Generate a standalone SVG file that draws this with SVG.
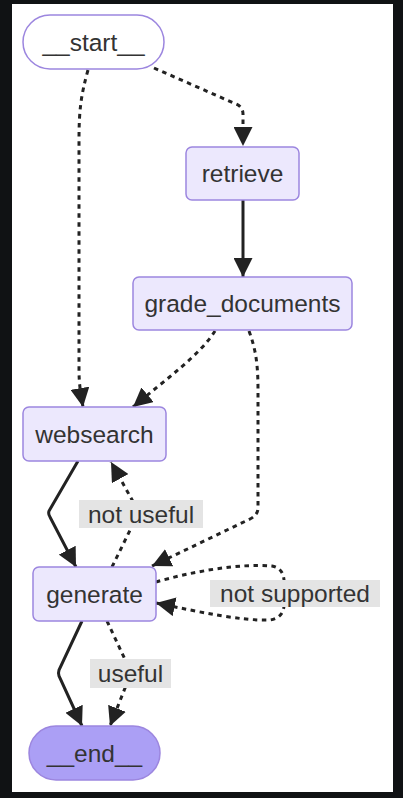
<svg xmlns="http://www.w3.org/2000/svg" width="403" height="798" viewBox="0 0 403 798">
<style>
.node rect{fill:#ece8fd;stroke:#9c86df;stroke-width:1.5}
.t{font-family:"Liberation Sans",Arial,sans-serif;font-size:24.5px;fill:#333;text-anchor:middle}
.e{fill:none;stroke:#222;stroke-width:3}
.d{stroke-dasharray:4.5 4.5}
.lbl{fill:#e4e4e4}
</style>
<defs>
<marker id="ah" markerUnits="userSpaceOnUse" markerWidth="19" markerHeight="19" viewBox="0 0 18 18" refX="18" refY="9" orient="auto">
<path d="M0,0 L18,9 L0,18 z" fill="#222"/>
</marker>
</defs>
<rect x="0" y="0" width="403" height="798" fill="#101214"/>
<rect x="12" y="4" width="381" height="788" fill="#ffffff"/>
<g id="connectors">
<path class="e d" d="M154,68 L236,104 Q243,107 243,114 L243,146" marker-end="url(#ah)"/>
<path class="e d" d="M88,70 C81,95 79,110 79,140 L79,370 C79,385 81,395 83,407" marker-end="url(#ah)"/>
<path class="e" d="M243,200 L243,277" marker-end="url(#ah)"/>
<path class="e d" d="M215,331 C200,355 165,380 133,407" marker-end="url(#ah)"/>
<path class="e d" d="M249,331 C256,350 258,365 258,390 L258,508 Q258,515 250,519 L152,566" marker-end="url(#ah)"/>
<path class="e" d="M78,461 L49,511 Q48,514 50,517 L76,567" marker-end="url(#ah)"/>
<path class="e d" d="M112,567 L136,518 Q139,513 136,507 L111,462" marker-end="url(#ah)"/>
<path class="e d" d="M156,582 C190,572 240,563 272,566 Q283,568 284,580 L284,606 Q283,618 270,620 C240,621 200,612 156,603" marker-end="url(#ah)"/>
<path class="e" d="M82,621 L59,670 Q58,673 59,676 L82,726" marker-end="url(#ah)"/>
<path class="e d" d="M107,621 L129,668 Q131,673 129,678 L110,726" marker-end="url(#ah)"/>
<g id="label-not-useful"><rect class="lbl" x="79" y="500" width="124" height="28"/><text class="t" x="141" y="522.5">not useful</text></g>
<g id="label-not-supported"><rect class="lbl" x="210" y="580" width="170" height="27"/><text class="t" x="295" y="602">not supported</text></g>
<g id="label-useful"><rect class="lbl" x="90" y="659" width="81" height="29"/><text class="t" x="130.5" y="682">useful</text></g>
</g>
<g id="start" class="node"><rect x="23" y="15" width="141" height="54" rx="27" style="fill:#ffffff"/><text class="t" x="93.5" y="50.5">__start__</text></g>
<g id="retrieve" class="node"><rect x="186" y="147" width="113" height="53" rx="6"/><text class="t" x="242.5" y="182">retrieve</text></g>
<g id="grade_documents" class="node"><rect x="133" y="277" width="219" height="53" rx="6"/><text class="t" x="242.5" y="312">grade_documents</text></g>
<g id="websearch" class="node"><rect x="23" y="407" width="143" height="54" rx="6"/><text class="t" x="94.5" y="442.5">websearch</text></g>
<g id="generate" class="node"><rect x="33" y="567" width="123" height="54" rx="6"/><text class="t" x="94.5" y="602.5">generate</text></g>
<g id="end" class="node"><rect x="29" y="726" width="131" height="54" rx="27" style="fill:#ab9ff5"/><text class="t" x="94.5" y="761.5">__end__</text></g>
</svg>
